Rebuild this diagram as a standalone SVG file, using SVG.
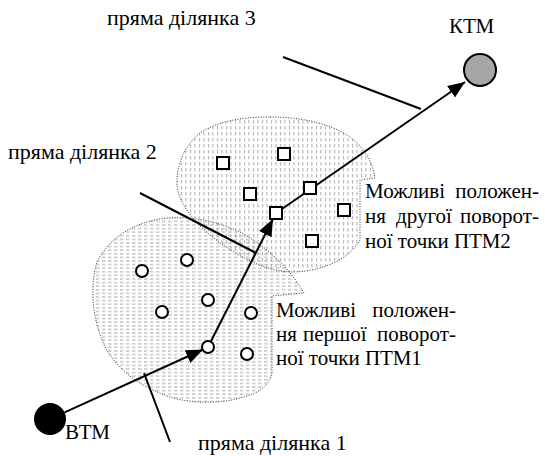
<svg xmlns="http://www.w3.org/2000/svg" width="545" height="456" viewBox="0 0 545 456">
  <style>
    text { font-family: "Liberation Serif", "Times New Roman", "DejaVu Serif", serif; font-size: 21px; fill: #000; }
    .lbl { font-size: 22px; }
    .blob { stroke: #333; stroke-width: 1; stroke-dasharray: 1 1.6; }
    .conn { stroke: #000; stroke-width: 2; fill: none; }
    .ptr { stroke: #000; stroke-width: 2; fill: none; }
    .sq { fill: #fff; stroke: #000; stroke-width: 2; }
    .cir { fill: #fff; stroke: #000; stroke-width: 2; }
    .end { text-anchor: end; }
  </style>
  <defs>
    <pattern id="hdash" patternUnits="userSpaceOnUse" width="6" height="3.6">
      <line x1="0" y1="1.8" x2="3.5" y2="1.8" stroke="#8c8c8c" stroke-width="0.8"/>
    </pattern>
    <pattern id="vdash" patternUnits="userSpaceOnUse" width="4.5" height="6">
      <line x1="1.5" y1="0" x2="1.5" y2="3.5" stroke="#8c8c8c" stroke-width="0.8"/>
    </pattern>
    <marker id="arrow" markerUnits="userSpaceOnUse" markerWidth="18" markerHeight="14" refX="17" refY="7" orient="auto">
      <path d="M0,0 L17,7 L0,14 z" fill="#000"/>
    </marker>
  </defs>

  <!-- regions -->
  <g id="region-ptm1">
    <path class="blob" fill="url(#hdash)" d="M304,293 C292,272 270,248 240,232 C215,220 185,215 160,219 C130,224 108,240 97,262 C90,285 92,315 102,340 C112,365 135,385 170,397 C195,405 230,404 255,393 C265,388 271,380 272,373 L272,296 Z"/>
  </g>
  <g id="region-ptm2">
    <path class="blob" fill="url(#vdash)" d="M270,117 C300,117 330,123 350,137 C365,148 373,163 375,178 L360,180 L360,240 C350,258 325,271 293,272 C265,272 235,255 210,235 C190,218 178,200 177,185 C176,165 185,145 200,133 C220,120 245,117 270,117 Z"/>
  </g>

  <!-- connectors -->
  <g id="connectors">
    <line class="conn" x1="64.6" y1="412.4" x2="203" y2="349.5" marker-end="url(#arrow)"/>
    <line class="conn" x1="210.7" y1="341.7" x2="273" y2="219" marker-end="url(#arrow)"/>
    <line class="conn" x1="282" y1="209" x2="465" y2="82" marker-end="url(#arrow)"/>
    <line class="ptr" x1="144" y1="373" x2="170" y2="442"/>
    <line class="ptr" x1="140" y1="193" x2="256" y2="253"/>
    <line class="ptr" x1="283" y1="57" x2="421" y2="109"/>
  </g>

  <!-- start / end points -->
  <g id="node-vtm">
    <circle cx="50" cy="419" r="16" fill="#000"/>
    <text x="65" y="439">ВТМ</text>
  </g>
  <g id="node-ktm">
    <circle cx="480" cy="70" r="16" fill="#a6a6a6" stroke="#000" stroke-width="2"/>
    <text x="449" y="33">КТМ</text>
  </g>

  <!-- possible first turning points -->
  <g id="node-ptm1">
    <circle class="cir" cx="142" cy="271" r="6"/>
    <circle class="cir" cx="187" cy="260" r="6"/>
    <circle class="cir" cx="208" cy="300" r="6"/>
    <circle class="cir" cx="162" cy="312" r="6"/>
    <circle class="cir" cx="251" cy="313" r="6"/>
    <circle class="cir" cx="208" cy="347" r="6"/>
    <circle class="cir" cx="247" cy="354" r="6"/>
  </g>

  <!-- possible second turning points -->
  <g id="node-ptm2">
    <rect class="sq" x="217" y="157" width="12" height="12"/>
    <rect class="sq" x="278" y="148" width="12" height="12"/>
    <rect class="sq" x="244" y="188" width="12" height="12"/>
    <rect class="sq" x="304" y="182" width="12" height="12"/>
    <rect class="sq" x="270" y="207" width="12" height="12"/>
    <rect class="sq" x="338" y="204" width="12" height="12"/>
    <rect class="sq" x="306" y="235" width="12" height="12"/>
  </g>

  <!-- labels -->
  <g id="label-segment3"><text class="lbl" x="107" y="25">пряма ділянка 3</text></g>
  <g id="label-segment2"><text class="lbl" x="8" y="159">пряма ділянка 2</text></g>
  <g id="label-segment1"><text class="lbl" x="198" y="450">пряма ділянка 1</text></g>

  <g id="label-ptm2">
    <text x="365" y="198">Можливі</text>
    <text class="end" x="539" y="198">положен-</text>
    <text x="365" y="223">ня</text>
    <text x="396" y="223">другої</text>
    <text class="end" x="539" y="223">поворот-</text>
    <text x="365" y="248">ної точки ПТМ2</text>
  </g>
  <g id="label-ptm1">
    <text x="276" y="317">Можливі</text>
    <text class="end" x="456" y="317">положен-</text>
    <text x="276" y="341">ня</text>
    <text x="303" y="341">першої</text>
    <text class="end" x="456" y="341">поворот-</text>
    <text x="276" y="365">ної точки ПТМ1</text>
  </g>
</svg>
